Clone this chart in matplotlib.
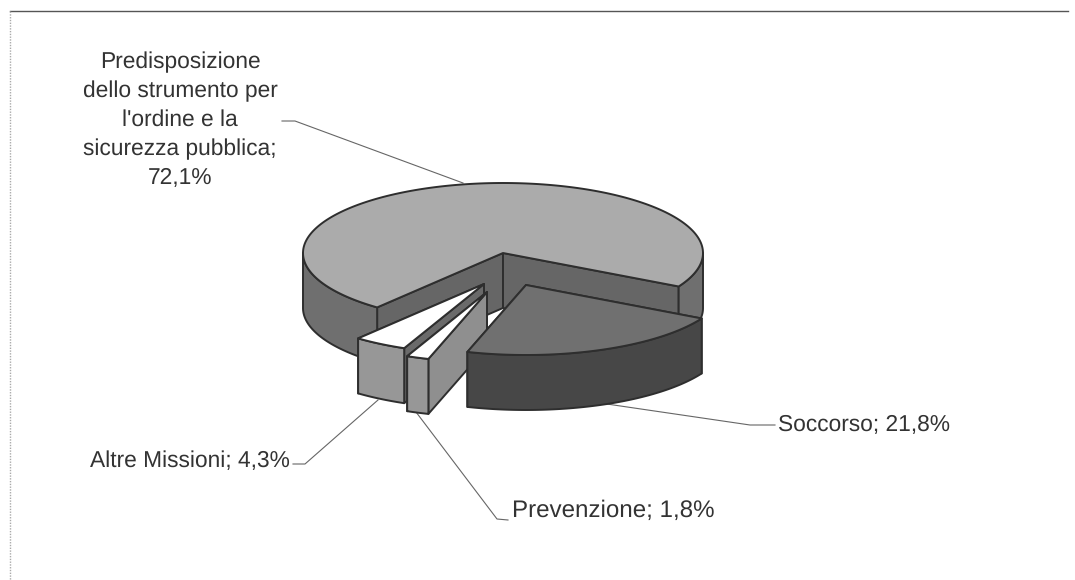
import numpy as np
import matplotlib
matplotlib.use("Agg")
import matplotlib.pyplot as plt
from matplotlib.patches import Polygon

plt.rcParams["text.hinting"] = "no_hinting"

categories = ["Predisposizione\ndello strumento per\nl'ordine e la\nsicurezza pubblica;\n72,1%",
              "Soccorso; 21,8%", "Prevenzione; 1,8%", "Altre Missioni; 4,3%"]
shares = [72.1, 21.8, 1.8, 4.3]

# pie geometry, in pixels of the page
RX, RY, DEPTH = 200, 70, 55
CENTER = np.array([503.0, 253.0])
START = 231.0  # first slice starts here and runs clockwise
offsets = [(0, 0), (23, 32), (-16, 39), (-19, 31)]
top_colors = ["#ababab", "#707070", "#ffffff", "#ffffff"]
wall_colors = ["#6f6f6f", "#474747", "#979797", "#979797"]
inner_colors = ["#666666", "#474747", "#8f8f8f", "#6a6a6a"]
EDGE = "#2e2e2e"
TEXT = "#333333"

fig = plt.figure(figsize=(10.75, 5.8), dpi=100)
ax = fig.add_axes([0, 0, 1, 1])
ax.set_xlim(0, 1075)
ax.set_ylim(580, 0)
ax.axis("off")


def rim(c, angles, drop=0):
    a = np.radians(angles)
    return np.column_stack([c[0] + RX * np.cos(a), c[1] - RY * np.sin(a) + drop])


def face(pts, color, z):
    ax.add_patch(Polygon(pts, closed=True, fc=color, ec=EDGE, lw=1.4, joinstyle="round", zorder=z))


def draw_slice(i, t_end, t_start, z):
    # t_end < t_start, angle in degrees counter clockwise
    c = CENTER + np.array(offsets[i], dtype=float)
    edge_angles = [t_end, t_start]
    normals = [t_end - 90, t_start + 90]
    order = sorted(range(2), key=lambda k: -np.sin(np.radians(normals[k])))
    for k in order:
        p = rim(c, [edge_angles[k]])[0]
        quad = [c, p, p + [0, DEPTH], c + [0, DEPTH]]
        face(quad, inner_colors[i], z)
    for lo, hi in ((-180, 0), (180, 360)):
        a, b = max(t_end, lo), min(t_start, hi)
        if a < b:
            t = np.linspace(a, b, 80)
            upper = rim(c, t)
            lower = rim(c, t[::-1], DEPTH)
            face(np.vstack([upper, lower]), wall_colors[i], z)
    t = np.linspace(t_end, t_start, 200)
    face(np.vstack([[c], rim(c, t)]), top_colors[i], z)


sweeps = np.array(shares) / sum(shares) * 360
stops = START - np.cumsum(sweeps)
starts = np.concatenate([[START], stops[:-1]])

for z, i in enumerate([0, 3, 2, 1]):
    draw_slice(i, stops[i], starts[i], z + 2)

# frame of the scanned page
ax.plot([10, 1068], [11, 11], color="#555555", lw=1.0, zorder=1)
ax.plot([10, 10], [11, 580], color="#aaaaaa", lw=1.0, ls=(0, (1, 1)), zorder=1)

# leader lines
leaders = [
    ([282, 295, 463], [121, 121, 183]),
    ([600, 750, 775], [403, 425, 425]),
    ([416, 497, 508], [412, 519, 520]),
    ([378, 305, 293], [400, 464, 464]),
]
for xs, ys in leaders:
    ax.plot(xs, ys, color="#666666", lw=0.8, zorder=1)

fs = 16.4
ax.text(180, 120, categories[0], ha="center", va="center", fontsize=fs, color=TEXT,
        family="Liberation Sans", linespacing=1.46)
ax.text(778, 425, categories[1], ha="left", va="center", fontsize=fs, color=TEXT, family="Liberation Sans")
ax.text(512, 511, categories[2], ha="left", va="center", fontsize=17.4, color=TEXT, family="Liberation Sans")
ax.text(90, 461, categories[3], ha="left", va="center", fontsize=fs, color=TEXT, family="Liberation Sans")

fig.savefig("out.png", dpi=100)
